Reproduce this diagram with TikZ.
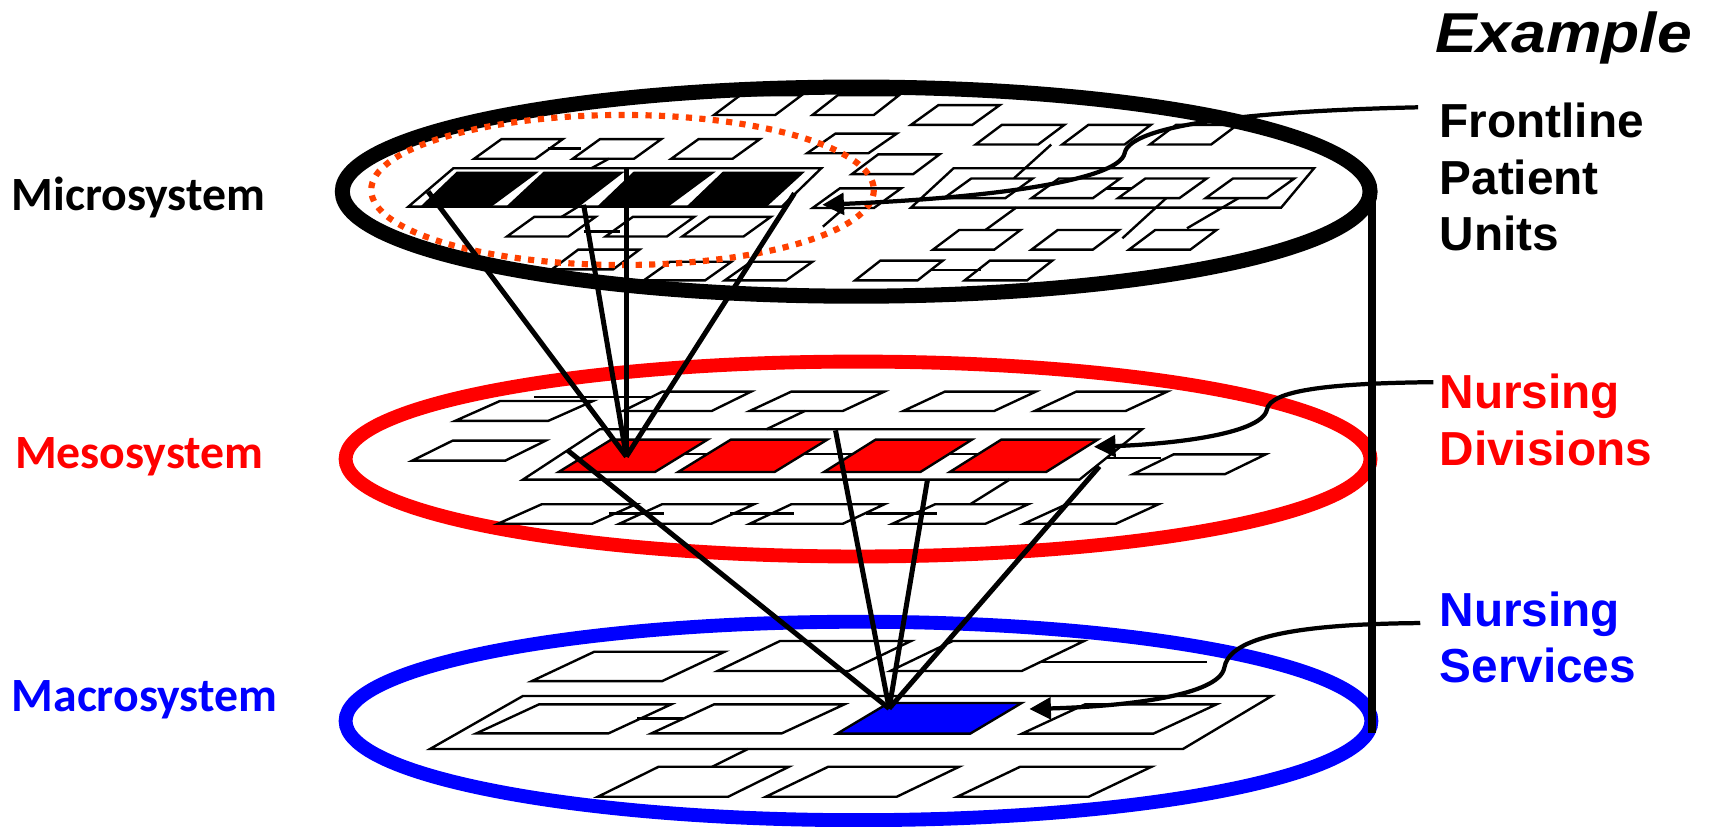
\documentclass[tikz,border=0pt]{standalone}
\usepackage{fontspec}
\newfontfamily\calfont{Carlito}
\newfontfamily\arialfont{Liberation Sans}
\usetikzlibrary{arrows.meta}
\definecolor{dotorange}{RGB}{255,64,0}
\tikzset{
	cell/.style={line width=0.62pt},
	beam/.style={line width=1.3pt},
	disc/.style={line width=3.6pt},
	pointer/.style={line width=1.1pt, -{Triangle[length=5.6pt,width=5.6pt]}}
}
\tikzset{
	leftlabel/.style={anchor=base west, inner sep=0pt, font=\calfont\bfseries\fontsize{12.4}{14}\selectfont},
	rightlabel/.style={anchor=base west, inner sep=0pt, font=\arialfont\bfseries\fontsize{12.4}{14}\selectfont}
}
% cell: [style] x, bottom y, width, height, slant
\newcommand{\unitcell}[6][]{%
  \draw[cell,#1] (#2,#3) -- ++(#4,0) -- ++(#6,-#5) -- ++(-#4,0) -- cycle;}

\begin{document}
\begin{tikzpicture}[x=0.01cm, y=-0.01cm]
      \useasboundingbox (0,0) rectangle (1568,755);
      % discs
      \draw[disc, line width=3.9pt] (781.9,175) ellipse [x radius=469.3, y radius=95.5];
      \draw[disc, red] (783.6,419.2) ellipse [x radius=468, y radius=89];
      \draw[disc, blue] (784,658.4) ellipse [x radius=468.4, y radius=90.6];
      % cylinder side
      \draw[line width=1.9pt] (1253,173) -- (1253,669);
      % micro disc: cells
      \unitcell{652}{105}{56}{18}{24}
      \unitcell{742}{105}{56}{18}{23}
      \unitcell{832}{114}{56}{18}{25}
      \unitcell{891}{132}{57}{18}{24}
      \unitcell{970}{132}{57}{18}{24}
      \unitcell{1050}{132}{56}{18}{24}
      \unitcell{433}{145}{56}{18}{25}
      \unitcell{523}{145}{56}{18}{25}
      \unitcell{613}{145}{56}{18}{25}
      \unitcell{737}{140}{56}{18}{26}
      \unitcell{778}{159}{56}{18}{24}
      \unitcell{742}{190}{56}{18}{25}
      \unitcell{463}{216}{56}{18}{25}
      \unitcell{553}{216}{56}{18}{25}
      \unitcell{623}{216}{56}{18}{25}
      \unitcell{504}{246}{56}{18}{24}
      \unitcell{588}{256}{56}{17}{24}
      \unitcell{662}{256}{56}{17}{24}
      \unitcell{781}{256}{57}{18}{23}
      \unitcell{881}{256}{57}{18}{23}
      \unitcell{852}{228}{56}{18}{24}
      \unitcell{942}{228}{56}{18}{24}
      \unitcell{1031}{228}{56}{18}{24}
      % micro disc: right block
      \draw[cell] (832,189.6) -- (1170,189.6) -- (1200,153.7) -- (870.8,153.7) -- cycle;
      \unitcell{862}{181}{56}{18}{25}
      \unitcell{942}{181}{56}{18}{25}
      \unitcell{1021}{181}{56}{18}{25}
      \unitcell{1101}{181}{56}{18}{25}
      % micro disc: left block with frontline units
      \draw[cell] (373,188.7) -- (714,188.7) -- (750,153.7) -- (414,153.7) -- cycle;
      \fill (384.6,188) -- (449.8,188) -- (492.2,156.7) -- (417.2,156.7) -- cycle;
      \fill (462.9,188) -- (529.7,188) -- (570.5,156.7) -- (496.5,156.7) -- cycle;
      \fill (546,188) -- (611.3,188) -- (653.7,156.7) -- (578.7,156.7) -- cycle;
      \fill (627.6,188) -- (701,188) -- (735.2,156.7) -- (660.2,156.7) -- cycle;
      % micro disc: links
      \draw[cell] (500,135.5) -- (531,135.5);
      \draw[cell] (556,145) -- (540,153.7);
      \draw[cell] (513,198) -- (528,188.7);
      \draw[cell] (533,211.5) -- (566,211.5);
      \draw[cell] (960,132) -- (926,162.8);
      \draw[cell] (1010,172) -- (1033,172);
      \draw[cell] (928,189.6) -- (900,210);
      \draw[cell] (1065,181) -- (1025,217.6);
      \draw[cell] (1131,181) -- (1084,208.5);
      \draw[cell] (851,246.5) -- (896,246.5);
      \draw[cell] (751.5,207) -- (771,190);
      % dotted ring round the units
      \draw[dotorange, line width=1.6pt, dash pattern=on 1.6pt off 1.9pt] (568.5,173.5) ellipse [x radius=229.5, y radius=68.5];
      % meso disc: cells
      \unitcell{415.6}{384.4}{85}{18.2}{41}
      \draw[cell] (488,362.5) -- (596,362.5);
      \unitcell{569}{375.3}{81}{17.7}{36}
      \unitcell{684.7}{375.3}{85}{17.7}{38}
      \unitcell{825}{375.3}{83}{17.7}{38}
      \unitcell{945}{375.3}{83}{17.7}{38}
      \unitcell{376.4}{420.7}{85}{18.3}{37}
      \unitcell{1034.7}{433}{84}{18}{37}
      \unitcell{454.7}{478.3}{86}{17.8}{40}
      \unitcell{565.6}{478.3}{84}{17.8}{39}
      \unitcell{684.7}{478.3}{85}{17.8}{38}
      \unitcell{815}{478.3}{85}{17.8}{39}
      \unitcell{935}{478.3}{84}{17.8}{39}
      % meso disc: block with divisions
      \draw[cell] (477.5,438) -- (985.8,438) -- (1043,392) -- (547.7,392) -- cycle;
      \draw[cell] (560,414.6) -- (960,414.6);
      \unitcell[fill=red]{510.2}{431}{88}{29.5}{48}
      \unitcell[fill=red]{619.4}{431}{88}{29.5}{48}
      \unitcell[fill=red]{752.6}{431}{88}{29.5}{47}
      \unitcell[fill=red]{867.4}{431}{88}{29.5}{47}
      % meso disc: links
      \draw[cell] (735,375.3) -- (700,392);
      \draw[cell] (922,438) -- (886,460.5);
      \draw[cell] (556,468.8) -- (606,468.8);
      \draw[cell] (667,468.8) -- (725,468.8);
      \draw[cell] (791,468.8) -- (856,468.8);
      \draw[cell] (1011,418.5) -- (1060,418.5);
      % macro disc: cells
      \unitcell{485.7}{622}{119}{26.8}{57}
      \unitcell{655.3}{612.8}{119.7}{27.4}{57}
      \unitcell{813}{612.8}{120}{27.4}{57}
      \draw[cell] (950,604.3) -- (1102,604.3);
      % macro disc: block with services
      \draw[cell] (392.7,684) -- (1080.3,684) -- (1161.4,635.6) -- (477.5,635.6) -- cycle;
      \unitcell{435.1}{669.7}{120.7}{26.4}{57}
      \unitcell{595}{669.7}{119}{26.4}{57}
      \unitcell[fill=blue]{764.5}{670}{121.5}{28}{47}
      \unitcell{933.3}{670}{120}{26.7}{57.5}
      \draw[cell] (582,656) -- (624,656);
      \unitcell{546}{727.6}{119}{27.4}{55.5}
      \unitcell{699.4}{727.6}{119.6}{27.4}{57}
      \unitcell{874.2}{727.6}{120}{27.4}{57.5}
      \draw[cell] (683,684) -- (650.4,700.2);
      % beams between levels
      \coordinate (mesoTip) at (572,417);
      \coordinate (macroTip) at (812,647);
      \coordinate (micro1) at (391,175);
      \coordinate (micro2) at (533,187);
      \coordinate (micro3) at (572,153.7);
      \coordinate (micro4) at (725.5,176.5);
      \coordinate (meso1) at (518,411);
      \coordinate (meso2) at (763,393);
      \coordinate (meso3) at (847,438);
      \coordinate (meso4) at (1004,426);
      \draw[beam] (micro1) -- (mesoTip);
      \draw[beam] (micro2) -- (mesoTip);
      \draw[beam] (micro3) -- (mesoTip);
      \draw[beam] (micro4) -- (mesoTip);
      \draw[beam] (meso1) -- (macroTip);
      \draw[beam] (meso2) -- (macroTip);
      \draw[beam] (meso3) -- (macroTip);
      \draw[beam] (meso4) -- (macroTip);
      % labels
      \node[leftlabel] (micro) at (10,191.8) {Microsystem};
      \node[leftlabel, red] (meso) at (13,427.7) {Mesosystem};
      \node[leftlabel, blue] (macro) at (10,650) {Macrosystem};
      \node[anchor=base west, inner sep=0pt, font=\arialfont\bfseries\itshape\fontsize{14.6}{16}\selectfont] (example) at (1310,48) {\scalebox{1.11}[1]{Example}};
      \node[rightlabel] (front) at (1314,126) {Frontline};
      \node[rightlabel] (patient) at (1314,177.5) {Patient};
      \node[rightlabel] (units) at (1314,228.5) {Units};
      \node[rightlabel, red] (nursingA) at (1314,373) {Nursing};
      \node[rightlabel, red] (divisions) at (1314,424.7) {Divisions};
      \node[rightlabel, blue] (nursingB) at (1314,572.3) {Nursing};
      \node[rightlabel, blue] (services) at (1314,623.5) {Services};
      % pointers from labels
      \coordinate (unitsFrom) at (1295,98);
      \coordinate (unitsTo) at (751,187);
      \coordinate (divFrom) at (1309,349);
      \coordinate (divTo) at (999,408);
      \coordinate (servFrom) at (1297,569);
      \coordinate (servTo) at (940,647.5);
      \draw[pointer] (unitsFrom) .. controls (1160,101) and (1032,112) .. (1027,140)
        .. controls (1022,163) and (920,180) .. (unitsTo);
      \draw[pointer] (divFrom) .. controls (1210,350) and (1160,357) .. (1157,374)
        .. controls (1152,398) and (1060,406) .. (divTo);
      \draw[pointer] (servFrom) .. controls (1170,570) and (1122,585) .. (1118,610)
        .. controls (1113,635) and (1030,645) .. (servTo);
    \end{tikzpicture}
\end{document}
